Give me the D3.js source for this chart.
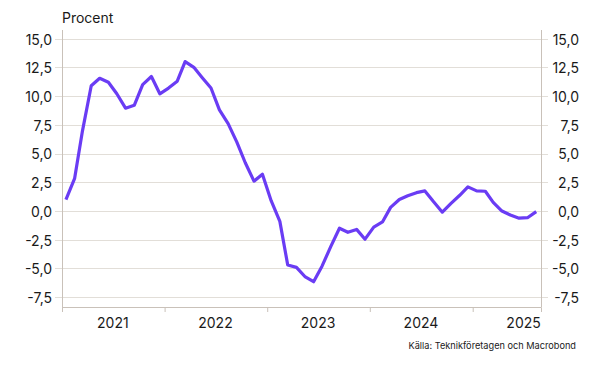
<!DOCTYPE html>
<html>
<head>
<meta charset="utf-8">
<script src="https://cdn.jsdelivr.net/npm/d3@7"></script>
<style>
    body { margin: 0; background: #fff; }
    svg text { font-family: Inter, "Noto Sans", sans-serif; fill: #1a1a1a; }
    .tick-label { font-size: 14px; }
    .source { font-size: 9.2px; }
</style>
</head>
<body>
<svg id="chart" width="602" height="370"></svg>
<script>
// monthly values, Jan 2021 - Aug 2025
var startMonth = "2021-01";
var values = [
    1.0, 2.85, 7.0, 10.9, 11.55, 11.2, 10.2, 8.95, 9.2, 11.0, 11.7, 10.2,
    10.7, 11.3, 13.0, 12.5, 11.6, 10.7, 8.8, 7.6, 6.0, 4.2, 2.6, 3.2,
    0.9, -0.9, -4.7, -4.9, -5.7, -6.15, -4.8, -3.1, -1.5, -1.85, -1.6, -2.45,
    -1.4, -0.95, 0.32, 1.0, 1.33, 1.6, 1.75, 0.8, -0.1, 0.65, 1.35, 2.1,
    1.75, 1.72, 0.75, 0.0, -0.35, -0.62, -0.58, -0.05
];
var yTicks = [-7.5, -5, -2.5, 0, 2.5, 5, 7.5, 10, 12.5, 15];
var years = [2021, 2022, 2023, 2024, 2025];
var yLabel = "Procent";
var sourceText = "Källa: Teknikföretagen och Macrobond";

(function () {
    var svg = d3.select("#chart"),
        margin = { top: 30, right: 61, bottom: 63, left: 62 },
        width = +svg.attr("width") - margin.left - margin.right,
        height = +svg.attr("height") - margin.top - margin.bottom,
        g = svg.append("g").attr("transform", "translate(" + margin.left + "," + margin.top + ")");

    var parse = d3.timeParse("%Y-%m");
    var t0 = parse(startMonth);
    var data = values.map(function (v, i) {
        var d = d3.timeMonth.offset(t0, i);
        return { date: new Date(d.getFullYear(), d.getMonth(), 15), value: v };
    });

    var x = d3.scaleTime()
        .range([0, width])
        .domain([new Date(2021, 0, 1), new Date(2025, 8, 1)]);

    var y = d3.scaleLinear()
        .range([height, 0])
        .domain([-8.35, 15.75]);

    var locale = d3.formatLocale({ decimal: ",", thousands: " ", grouping: [3], currency: ["", ""], minus: "-" });
    var fmt = locale.format(".1f");

    // gridlines
    g.append("g")
        .selectAll("line")
        .data(yTicks)
        .enter()
        .append("line")
        .attr("x1", -7)
        .attr("x2", width + 7)
        .attr("y1", function (d) { return Math.round(y(d)) + 0.5; })
        .attr("y2", function (d) { return Math.round(y(d)) + 0.5; })
        .attr("stroke", "#e2ded8")
        .attr("stroke-width", 1.2);

    // left labels
    g.append("g")
        .selectAll("text")
        .data(yTicks)
        .enter()
        .append("text")
        .attr("class", "tick-label")
        .attr("x", -10)
        .attr("y", function (d) { return y(d); })
        .attr("dy", "0.42em")
        .attr("text-anchor", "end")
        .text(fmt);

    // right labels
    g.append("g")
        .selectAll("text")
        .data(yTicks)
        .enter()
        .append("text")
        .attr("class", "tick-label")
        .attr("x", width + 38)
        .attr("y", function (d) { return y(d); })
        .attr("dy", "0.42em")
        .attr("text-anchor", "end")
        .text(fmt);

    // axis lines
    g.append("line")
        .attr("x1", 0.5).attr("x2", 0.5)
        .attr("y1", 0).attr("y2", height)
        .attr("stroke", "#c9c1b9");
    g.append("line")
        .attr("x1", width + 0.5).attr("x2", width + 0.5)
        .attr("y1", 0).attr("y2", height)
        .attr("stroke", "#c9c1b9");

    var xAxis = g.append("g")
        .attr("transform", "translate(0," + height + ")")
        .call(d3.axisBottom(x)
            .tickValues(years.map(function (yr) { return new Date(yr, 0, 1); }))
            .tickSize(5)
            .tickFormat(""));
    xAxis.select(".domain").attr("stroke", "#c9c1b9");
    xAxis.selectAll(".tick line").attr("stroke", "#c9c1b9");

    // year labels, centred in each year
    g.append("g")
        .selectAll("text")
        .data(years)
        .enter()
        .append("text")
        .attr("class", "tick-label")
        .attr("x", function (d) { return x(new Date(d, 6, 1)); })
        .attr("y", height + 21)
        .attr("text-anchor", "middle")
        .text(function (d) { return d; });

    g.append("text")
        .attr("class", "tick-label")
        .attr("x", 0)
        .attr("y", -7)
        .text(yLabel);

    var line = d3.line()
        .x(function (d) { return x(d.date); })
        .y(function (d) { return y(d.value); });

    g.append("path")
        .datum(data)
        .attr("fill", "none")
        .attr("stroke", "#6a3cf4")
        .attr("stroke-width", 3.2)
        .attr("stroke-linejoin", "round")
        .attr("stroke-linecap", "butt")
        .attr("d", line);

    svg.append("text")
        .attr("class", "source")
        .attr("x", 576)
        .attr("y", 349)
        .attr("text-anchor", "end")
        .text(sourceText);
})();
</script>
</body>
</html>
